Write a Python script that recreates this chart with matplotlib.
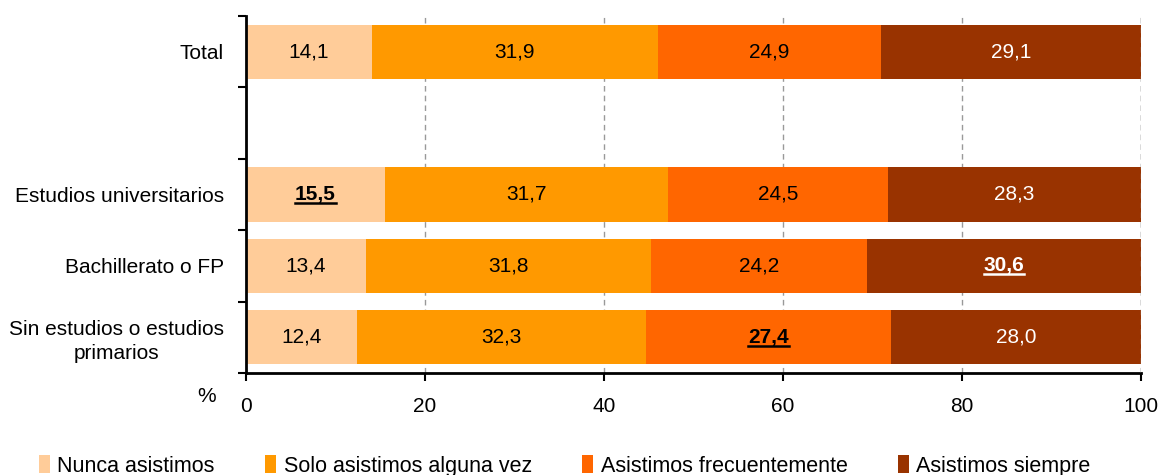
import matplotlib
matplotlib.use("Agg")
import matplotlib.pyplot as plt
from matplotlib.patches import Patch
from matplotlib.lines import Line2D

plt.rcParams['font.family'] = ['Liberation Sans', 'DejaVu Sans']

categories = ["Total", "", "Estudios universitarios", "Bachillerato o FP",
              "Sin estudios o estudios\nprimarios"]
series_names = ["Nunca asistimos", "Solo asistimos alguna vez",
                "Asistimos frecuentemente", "Asistimos siempre"]
nunca = [14.1, None, 15.5, 13.4, 12.4]
alguna = [31.9, None, 31.7, 31.8, 32.3]
frecuente = [24.9, None, 24.5, 24.2, 27.4]
siempre = [29.1, None, 28.3, 30.6, 28.0]
# (series index, category index) of highlighted values
highlights = [(0, 2), (3, 3), (2, 4)]
xticks = [0, 20, 40, 60, 80, 100]

colors = ["#FFCC99", "#FF9900", "#FF6600", "#993300"]
text_colors = ["black", "black", "black", "white"]
FS = 15

fig = plt.figure(figsize=(11.63, 4.75), dpi=100)
ax = fig.add_axes([246/1163, 1-373/475, (1141-246)/1163, (373-16)/475])

series = [nunca, alguna, frecuente, siempre]
left = [0.0]*len(categories)
hl_texts = []
for si, vals in enumerate(series):
    for ci, v in enumerate(vals):
        if v is None:
            continue
        ax.barh(ci, v, left=left[ci], height=0.76, color=colors[si],
                edgecolor='none', zorder=2)
        is_hl = (si, ci) in highlights
        t = ax.text(left[ci] + v/2, ci, f"{v:.1f}".replace('.', ','),
                    ha='center', va='center', fontsize=FS,
                    color=text_colors[si],
                    fontweight='bold' if is_hl else 'normal', zorder=3)
        if is_hl:
            hl_texts.append(t)
        left[ci] += v

ax.set_xlim(0, 100)
ax.set_ylim(len(categories)-0.5, -0.5)
ax.set_xticks(xticks)
ax.set_xticklabels([str(x) for x in xticks], fontsize=FS)
ax.tick_params(axis='x', direction='out', length=6, width=1.5, pad=11)

ax.set_yticks([i - 0.5 for i in range(len(categories)+1)])
ax.set_yticklabels([])
ax.set_yticks(range(len(categories)), minor=True)
ax.set_yticklabels(categories, minor=True, fontsize=FS, ha='right',
                   multialignment='center', linespacing=1.3)
ax.tick_params(axis='y', which='major', direction='out', length=6, width=1.5)
ax.tick_params(axis='y', which='minor', length=0, pad=16)

for s in ['top', 'right']:
    ax.spines[s].set_visible(False)
for s in ['left', 'bottom']:
    ax.spines[s].set_linewidth(2)
ax.xaxis.grid(True, linestyle=(0, (4, 3)), color='#999999', linewidth=1, zorder=0)
ax.set_axisbelow(True)
ax.axvline(100, linestyle=(0, (4, 3)), color='#999999', linewidth=1, zorder=5)

fig.text(207/1163, 1-396/475, "%", fontsize=FS, ha='center', va='center')

handles = [Patch(facecolor=c, edgecolor='none') for c in colors]
fig.legend(handles, series_names, loc='center left',
           bbox_to_anchor=(39/1163, 1-466/475), ncol=4, frameon=False,
           fontsize=15.5, handlelength=0.5, handleheight=0.9,
           handletextpad=0.35, columnspacing=2.35, borderpad=0,
           borderaxespad=0)

fig.canvas.draw()
r = fig.canvas.get_renderer()
for t in hl_texts:
    bb = t.get_window_extent(renderer=r)
    y = bb.y0 + 1
    fig.add_artist(Line2D([bb.x0/fig.bbox.width, bb.x1/fig.bbox.width],
                          [y/fig.bbox.height, y/fig.bbox.height],
                          color=t.get_color(), linewidth=1.8,
                          transform=fig.transFigure, zorder=4))

fig.savefig("out.png", dpi=100)
